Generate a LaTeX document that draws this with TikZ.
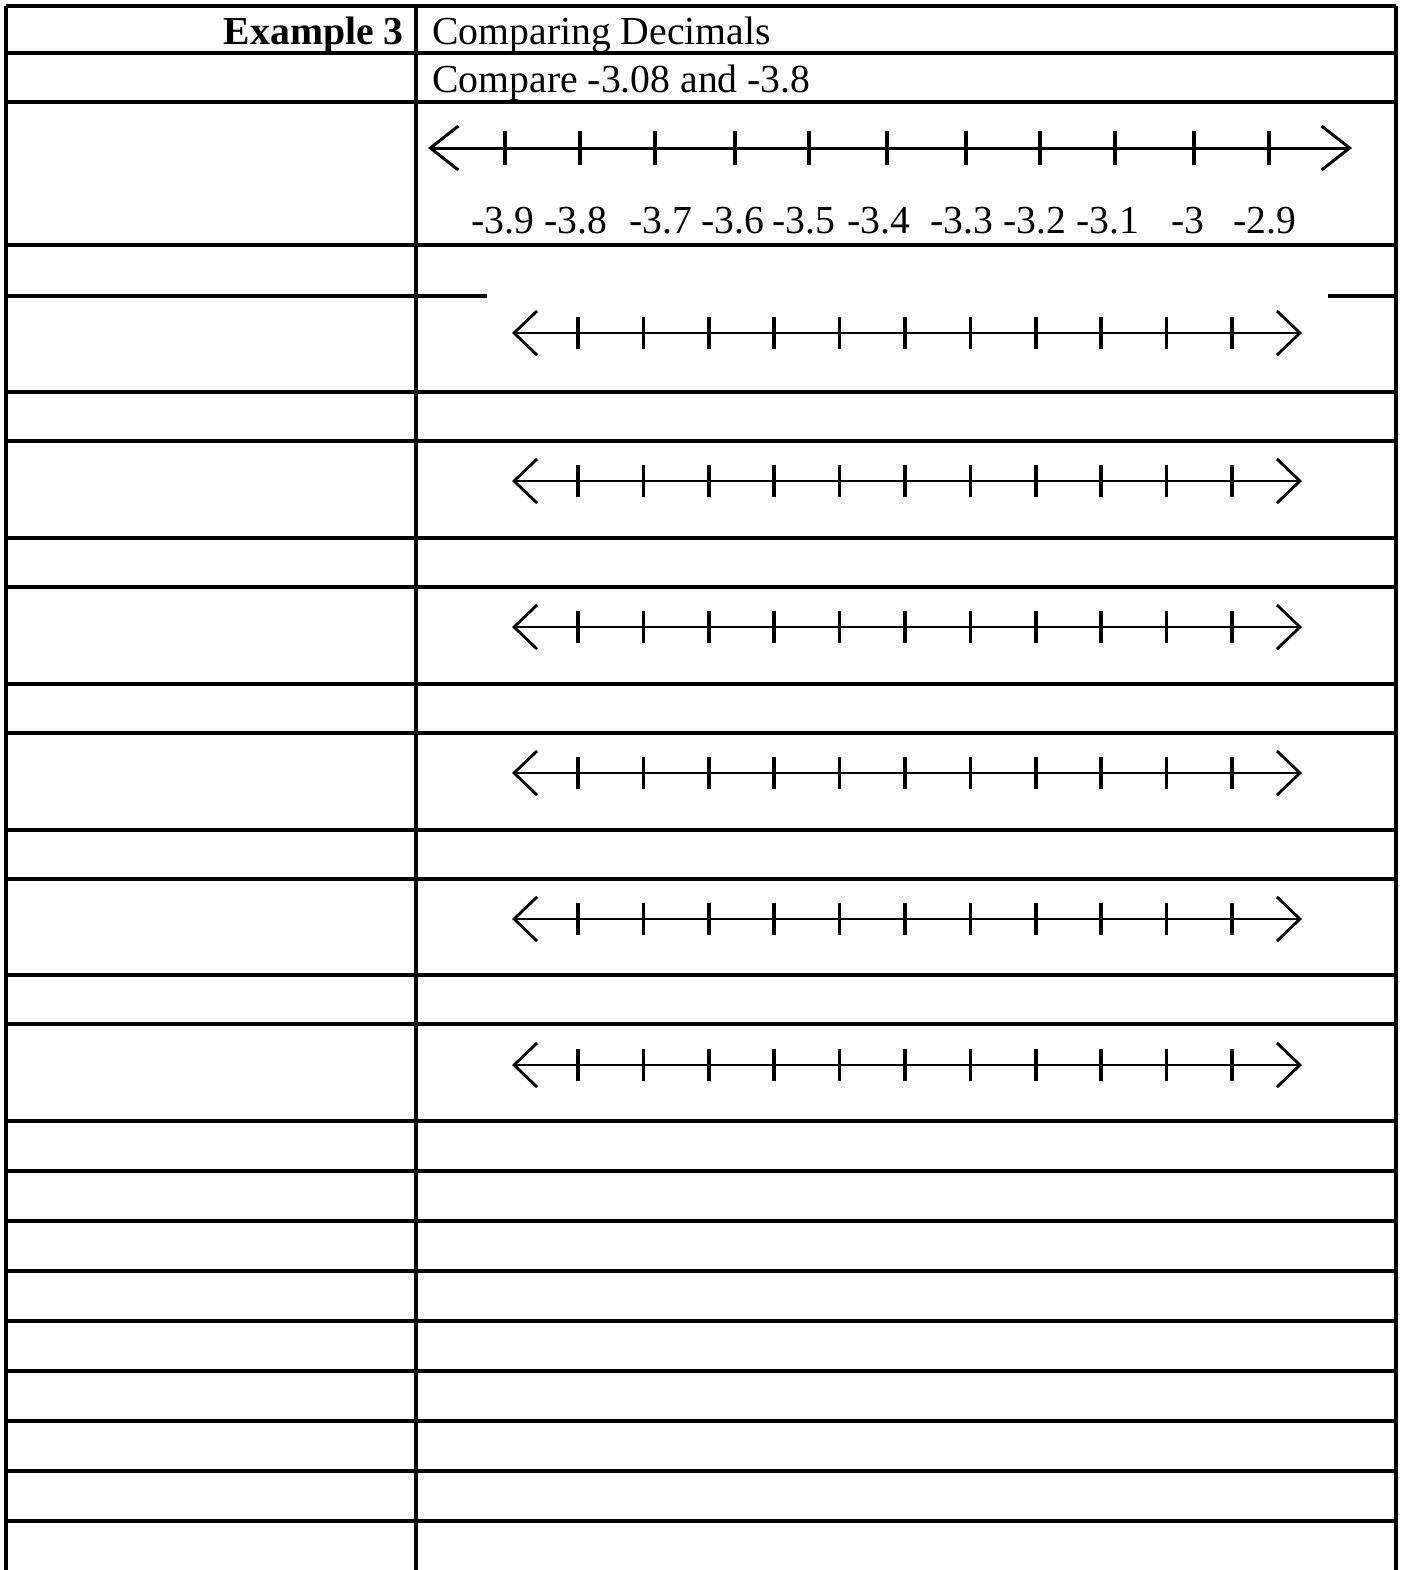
\documentclass[tikz,border=0pt]{standalone}
\usepackage{fontspec}
\setmainfont{Liberation Serif}
\usepackage{tikz}
\usetikzlibrary{arrows.meta}
\tikzstyle{grid} = [line width=2.6pt]
\tikzstyle{numline} = [line width=1.6pt,{Straight Barb[length=0.46cm,width=0.88cm]}-{Straight Barb[length=0.46cm,width=0.88cm]}]
\tikzstyle{bignumline} = [line width=1.7pt,{Straight Barb[length=0.56cm,width=0.88cm]}-{Straight Barb[length=0.56cm,width=0.88cm]}]
\tikzstyle{tickmark} = [line width=2pt]
\tikzstyle{txt} = [inner sep=0pt, font=\fontsize{22.6}{27}\selectfont]

\begin{document}
\begin{tikzpicture}[x=0.02cm, y=-0.02cm]
    \useasboundingbox (0,0) rectangle (1401,1570);

    % Table
    \draw[grid] (6,6) -- (6,1570);
    \draw[grid] (416,6) -- (416,1570);
    \draw[grid] (1396,6) -- (1396,1570);
    \foreach \y in {6,53,102,245,392,441,538,587,684,733,830,879,975,1024,1121,1171,1221,1271,1321,1371,1421,1471,1521}
        \draw[grid] (6,\y) -- (1396,\y);
    \draw[grid] (6,296) -- (487,296);
    \draw[grid] (1328,296) -- (1396,296);

    % Header
    \node[txt, anchor=base east, font=\fontsize{22.6}{27}\selectfont\bfseries] (ex) at (404,44) {Example 3};
    \node[txt, anchor=base west] (title) at (432,44) {Comparing Decimals};
    \node[txt, anchor=base west] (task) at (432,92) {Compare -3.08 and -3.8};

    % Labelled number line
    \coordinate (left0) at (428,148);
    \coordinate (right0) at (1352,148);
    \draw[bignumline] (left0) -- (right0);
    \foreach \x in {505,580,655,735,809,887,966,1040,1115,1194,1269}
        \draw[tickmark] (\x,131) -- (\x,165);
    \foreach \x/\lab [count=\i] in {503/-3.9,576/-3.8,661/-3.7,733/-3.6,804/-3.5,879/-3.4,962/-3.3,1035/-3.2,1108/-3.1,1188/-3,1265/-2.9}
        \node[txt, anchor=base] (lab\i) at (\x,233) {\lab};

    % Blank number lines
    \foreach \y [count=\k] in {333,481,627,773,919,1065} {
        \coordinate (left\k) at (512,\y);
        \coordinate (right\k) at (1302,\y);
        \draw[numline] (left\k) -- (right\k);
        \foreach \i in {0,...,10}
            \draw[tickmark] ({578+65.4*\i},{\y-16}) -- ++(0,32);
    }
\end{tikzpicture}
\end{document}
